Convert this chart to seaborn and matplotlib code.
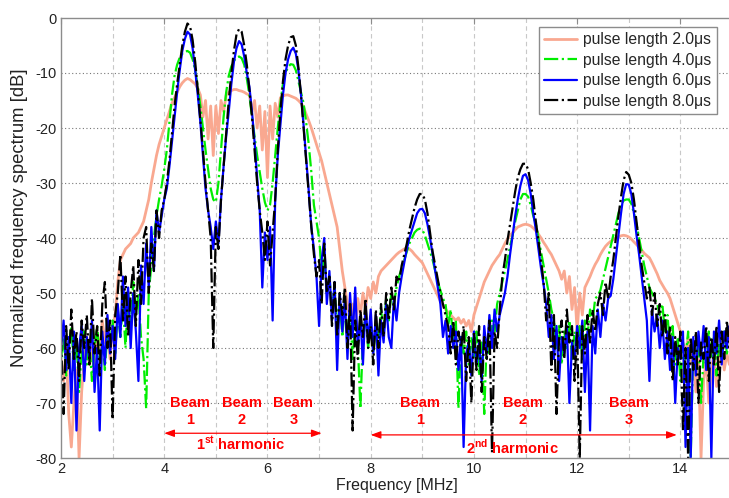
import numpy as np
import pandas as pd
import matplotlib
matplotlib.use("Agg")
import matplotlib.pyplot as plt
import seaborn as sns

# ---------------- data ----------------
freq_start, freq_stop, freq_step = 2.0, 15.0, 0.05   # sampling grid of the spectra [MHz]

# pulse length 2.0 us (salmon)
pl20 = [
    -62, -66, -60, -72, -78, -70, -64, -80, -68, -62, -58, -63, -60, -66, -57, -61, -55, -59, -56, -62,
    -56, -54, -48, -44, -43, -42, -41.5, -41, -40, -39.5, -39, -38, -37, -35, -33, -30, -27.5, -25, -23, -21.5,
    -20, -18.5, -17, -15.5, -14.5, -13.5, -12.5, -11.8, -11.3, -11, -11.2, -11.6, -12, -12.8, -14, -18, -15, -22, -16, -25,
    -16, -21, -15, -17, -14, -13.5, -13.2, -13, -13, -13.2, -13.3, -13.5, -13.8, -14, -17, -15, -20, -16, -24, -17,
    -29, -16, -22, -15.5, -18, -14.5, -14.2, -14, -14, -14.2, -14.4, -14.6, -15, -15.5, -16.2, -17.5, -18.7, -20, -21.5, -23,
    -24.5, -26, -28, -30, -32, -34, -36, -38, -42, -46, -49, -52, -55, -52, -56, -51, -54, -50, -53, -49,
    -51, -48, -50, -47, -46, -45.5, -45, -44.5, -44, -43.5, -43, -42.6, -42.3, -42, -41.8, -42, -42.4, -43, -43.5, -44,
    -44.5, -45.5, -46.5, -47.5, -48.5, -49.5, -50.5, -51.5, -52.3, -53, -53.5, -54, -54.5, -55, -54.5, -55.5, -54.8, -56, -55, -57,
    -54, -52.5, -51, -49.5, -48, -47, -46, -45, -44.3, -43.6, -43, -42, -41, -40.2, -39.5, -39, -38.5, -38, -37.8, -37.6,
    -37.5, -37.6, -37.8, -38.2, -38.7, -39.3, -40, -40.8, -41.5, -42.3, -43, -44, -45, -46, -47.5, -46, -50, -47, -53, -49,
    -57, -50, -54, -49, -48, -47, -45.8, -44.8, -44, -43, -42.2, -41.5, -41, -40.6, -40.3, -40, -39.8, -39.6, -39.5, -39.6,
    -39.8, -40.2, -40.7, -41.2, -41.7, -42.2, -42.8, -43.2, -43.6, -44.5, -45.5, -46.5, -47.7, -48.5, -49.3, -50, -51, -52.5, -54, -55.5,
    -57, -59, -61, -58, -63, -60, -68, -62, -80, -66, -62, -70, -64, -61, -67, -63, -60, -64, -61, -63,
    -62,
]

# pulse length 4.0 us (green, dash-dot)
pl40 = [
    -62, -58, -65, -60, -56, -64, -59, -68, -61, -57, -63, -59, -66, -60, -56, -62, -58, -64, -57, -60,
    -55, -61, -53, -58, -52, -60, -50, -56, -48, -54, -50, -58, -62, -71, -50, -45, -40, -36, -33, -30.5,
    -27.5, -24, -19, -14, -10.5, -8.5, -7.2, -6.5, -6.1, -6, -6.3, -7.5, -9.5, -12.5, -16, -20, -24, -27.5, -31, -33,
    -33.5, -30, -24, -18, -13.5, -10.5, -8.8, -7.8, -7.2, -7, -7.3, -8.5, -11, -14, -18, -21.5, -25, -28, -31, -33.5,
    -35, -34, -30, -25, -20, -15.5, -12, -10, -8.9, -8.4, -8.5, -9.5, -11.5, -13.5, -15.5, -19, -23, -28, -34, -37,
    -40, -46, -43, -50, -47, -53, -49, -56, -51, -58, -52, -57, -53, -62, -55, -59, -71, -58, -54, -60,
    -55, -61, -56, -59, -53, -57, -51, -55, -50, -52, -49, -47, -45.5, -44, -42.5, -41, -40, -39, -38.5, -38.3,
    -38.5, -39.5, -41, -42.5, -44, -46, -48, -49.5, -51, -52, -56, -53, -59, -55, -71, -58, -61, -57, -63, -58,
    -62, -57, -65, -59, -72, -58, -61, -55, -57, -52, -50, -48, -46, -44, -41.5, -39.5, -37, -35, -33, -32,
    -32, -32.5, -34, -36, -37.5, -40, -42.5, -45, -47.5, -50, -53, -55, -60, -56, -63, -57, -60, -55, -62, -57,
    -60, -56, -62, -55, -58, -53, -55, -51, -50.5, -49.5, -47.5, -45.5, -43.5, -41.5, -39.5, -37.5, -35.5, -34, -33.2, -33,
    -33, -33.8, -35.5, -37.5, -40, -42.5, -45, -47, -49, -50, -51, -52, -54, -52, -57, -54, -60, -56, -63, -58,
    -66, -59, -62, -57, -80, -60, -64, -58, -70, -61, -63, -57, -62, -58, -65, -59, -62, -57, -61, -59,
    -60,
]

# pulse length 6.0 us (blue)
pl60 = [
    -60, -55, -64, -58, -70, -57, -75, -60, -56, -66, -58, -62, -55, -68, -60, -75, -57, -63, -54, -61,
    -56, -62, -52, -58, -47, -56, -49, -60, -50, -57, -66, -45, -52, -41, -49, -38, -46, -35, -39, -36,
    -33, -31, -27, -22.5, -18, -13.5, -9.5, -6, -3.8, -2.5, -3, -5.5, -9.5, -14, -19, -25, -31, -35, -38, -42,
    -37, -41, -33, -27, -21.5, -17, -12, -8, -5.5, -4.2, -4.8, -7, -10, -12.5, -17, -22.5, -29, -35, -49, -39,
    -44, -38, -55, -33, -25, -19.5, -14, -10, -7.5, -6, -5.4, -6.5, -9.5, -14, -19.5, -25.5, -31.5, -38, -42, -47,
    -56, -44, -40, -52, -46, -55, -48, -64, -50, -57, -51, -62, -50, -58, -49, -60, -54, -63, -52, -59,
    -53, -61, -54, -65, -55, -59, -52, -58, -60, -51, -55, -50, -47, -44.5, -42, -40, -38.5, -37, -35.5, -34.8,
    -34.7, -35.5, -37.5, -40, -43, -46, -49, -52, -58, -55, -61, -56, -60, -57, -64, -58, -78, -61, -59, -65,
    -57, -63, -59, -66, -56, -61, -54, -60, -53, -57, -54, -52, -50, -47, -43, -39.5, -36, -33, -30.5, -28.7,
    -28.4, -29.5, -32, -35.5, -38.5, -42, -45.5, -48.5, -52, -58, -54, -62, -56, -66, -58, -61, -56, -70, -59, -62,
    -56, -60, -55, -68, -57, -75, -56, -61, -53, -58, -52, -55, -51, -50.5, -47.5, -43.5, -39.5, -35.5, -32, -30.2,
    -30.3, -32, -35.5, -39.5, -43, -47, -51, -55, -66, -53, -57, -54, -60, -55, -62, -57, -64, -58, -70, -60,
    -62, -57, -78, -60, -80, -58, -65, -57, -62, -56, -64, -58, -80, -57, -61, -55, -63, -57, -60, -56,
    -58,
]

# pulse length 8.0 us (black, dash-dot)
pl80 = [
    -58, -72, -56, -64, -53, -62, -57, -66, -55, -60, -54, -63, -51, -61, -56, -65, -52, -48, -60, -55,
    -73, -54, -50, -43, -55, -47, -58, -50, -45, -56, -44, -52, -40, -38, -50, -41, -46, -35, -40, -35,
    -33, -30, -26, -21, -16, -12, -8.5, -5, -2.5, -1, -1.5, -4, -8, -13, -18.5, -24, -30, -35, -40, -60,
    -38, -42, -33, -27, -21, -15, -10, -6, -3, -2, -2.5, -5, -8.5, -13, -18, -24, -30, -35, -39, -44,
    -37, -45, -39, -33, -24, -17, -11.5, -7.5, -5, -3.5, -3.3, -5, -9, -14, -20, -26, -32, -38, -43, -47,
    -44, -52, -41, -50, -47, -56, -48, -58, -50, -54, -49, -60, -52, -75, -55, -62, -53, -58, -51, -60,
    -56, -63, -53, -60, -52, -58, -50, -55, -49, -53, -47, -48, -45, -43, -41, -38.5, -36.5, -34.5, -33, -32,
    -32, -33, -35.5, -39, -42.5, -45, -47.5, -50, -52, -54, -56, -61, -55, -63, -57, -60, -56, -66, -58, -70,
    -57, -64, -56, -68, -58, -62, -55, -79, -57, -60, -53, -47, -44, -40.5, -37.5, -34.5, -31.5, -29, -27.5, -26.5,
    -26.5, -27.5, -30, -33, -37, -40.5, -44, -48, -55, -50, -64, -54, -72, -58, -55, -62, -53, -59, -56, -66,
    -57, -80, -56, -61, -54, -59, -53, -57, -52, -50, -54, -48, -51, -47, -44, -40, -36, -32.5, -29.5, -28,
    -28.5, -30, -33, -37, -41, -45, -48, -51, -49, -54, -50, -56, -52, -58, -54, -61, -56, -66, -58, -63,
    -57, -75, -60, -80, -58, -64, -57, -70, -59, -62, -56, -66, -58, -63, -56, -68, -57, -62, -55, -60,
    -58,
]

series_labels = ["pulse length 2.0\u03bcs", "pulse length 4.0\u03bcs",
                 "pulse length 6.0\u03bcs", "pulse length 8.0\u03bcs"]

xticks = [2, 4, 6, 8, 10, 12, 14]
yticks = [0, -10, -20, -30, -40, -50, -60, -70, -80]

beam_labels = ["Beam\n1", "Beam\n2", "Beam\n3", "Beam\n1", "Beam\n2", "Beam\n3"]
beam_x = [4.5, 5.5, 6.5, 8.95, 10.95, 13.0]

# ---------------- figure ----------------
sns.set_style("white")
plt.rcParams["font.family"] = ["Liberation Sans", "DejaVu Sans"]
plt.rcParams["axes.unicode_minus"] = False
plt.rcParams["mathtext.fontset"] = "custom"
plt.rcParams["mathtext.rm"] = "Liberation Sans"
plt.rcParams["mathtext.bf"] = "Liberation Sans:bold"

freq = np.round(np.arange(freq_start, freq_stop + freq_step / 2, freq_step), 3)
df = pd.DataFrame({"freq": freq, series_labels[0]: pl20, series_labels[1]: pl40,
                   series_labels[2]: pl60, series_labels[3]: pl80})

fig = plt.figure(figsize=(7.29, 4.98), dpi=100)
ax = fig.add_axes([61 / 729, 40 / 498, 671 / 729, 440 / 498])

styles = [
    dict(color="#F9A890", linestyle="-", lw=2.0),
    dict(color="#00EE00", linestyle="-.", lw=1.6),
    dict(color="#0000FF", linestyle="-", lw=1.6),
    dict(color="#000000", linestyle="-.", lw=1.6),
]
for lab, st in zip(series_labels, styles):
    sns.lineplot(data=df, x="freq", y=lab, ax=ax, estimator=None, label=lab, **st)

ax.set_xlim(2, 15)
ax.set_ylim(-80, 0)
ax.set_xticks(xticks)
ax.set_yticks(yticks)
ax.set_xticklabels([str(t) for t in xticks])
ax.set_yticklabels([str(t) for t in yticks])

# grid
for yv in yticks[1:-1]:
    ax.axhline(yv, color="#777777", lw=0.8, linestyle=(0, (1, 2.2)), zorder=0.5)
for xv in range(3, 15):
    ax.axvline(xv, color="#c8c8c8", lw=0.8, linestyle=(0, (4, 3)), zorder=0.5)

for sp in ax.spines.values():
    sp.set_color("#8c8c8c")
    sp.set_linewidth(1.0)
ax.tick_params(axis="both", direction="in", length=4, color="#8c8c8c",
               labelsize=10.5, labelcolor="#222222", top=True, right=False, pad=3)

ax.set_xlabel("Frequency [MHz]", fontsize=11.5, color="#222222")
ax.set_ylabel("Normalized frequency spectrum [dB]", fontsize=13.3, color="#222222")
ax.xaxis.set_label_coords(336 / 671, -20 / 440)
ax.yaxis.set_label_coords(-33 / 671, 240 / 440)

leg = ax.legend(loc="upper right", bbox_to_anchor=(656 / 671, 431 / 440), fontsize=11.3,
                frameon=True, fancybox=False, framealpha=1, edgecolor="#8c8c8c",
                borderpad=0.35, handlelength=2.1, handletextpad=0.4, labelspacing=0.35,
                borderaxespad=0)
leg.get_frame().set_linewidth(1.0)

# annotations
red = "#FF0000"
for lab, bx in zip(beam_labels, beam_x):
    ax.text(bx, -71.6, lab, color=red, fontsize=10.5, fontweight="bold",
            ha="center", va="center", linespacing=1.25)
ax.annotate("", xy=(4.0, -75.5), xytext=(7.05, -75.5),
            arrowprops=dict(arrowstyle="<|-|>,head_length=0.6,head_width=0.22", color=red, lw=0.9,
                            shrinkA=0, shrinkB=0))
ax.annotate("", xy=(8.0, -75.8), xytext=(13.93, -75.8),
            arrowprops=dict(arrowstyle="<|-|>,head_length=0.6,head_width=0.22", color=red, lw=0.9,
                            shrinkA=0, shrinkB=0))
ax.text(5.49, -77.5, r"1$^{\mathbf{st}}$ harmonic", color=red, fontsize=10.5, fontweight="bold",
        ha="center", va="center")
ax.text(10.75, -78.0, r"2$^{\mathbf{nd}}$ harmonic", color=red, fontsize=10.5, fontweight="bold",
        ha="center", va="center")

fig.savefig("out.png", dpi=100)
